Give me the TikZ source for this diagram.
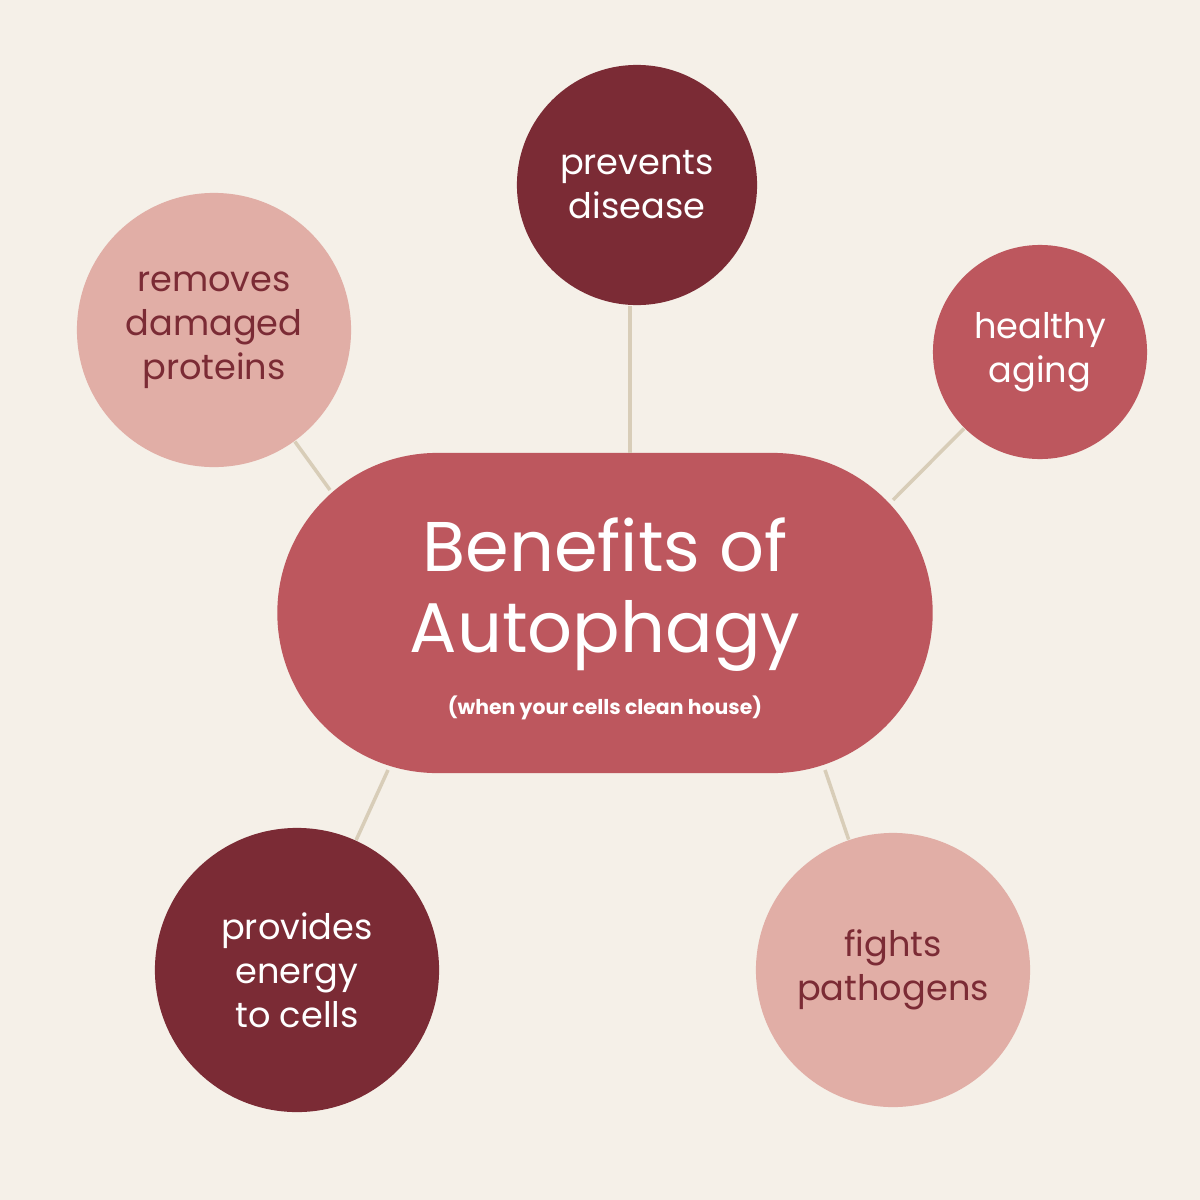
\documentclass[tikz,border=0pt]{standalone}
\usepackage{fontspec}
\setmainfont{Poppins}
\usetikzlibrary{shapes.misc}
\definecolor{bg}{HTML}{F5F0E8}
\definecolor{dk}{HTML}{7B2B35}
\definecolor{md}{HTML}{BD575E}
\definecolor{lt}{HTML}{E1AEA6}
\definecolor{ln}{HTML}{D8CDB8}
\tikzset{
 bub/.style={circle,inner sep=0pt,align=center,font=\fontsize{10pt}{12.5pt}\selectfont},
 dkb/.style={bub,fill=dk,text=white},
 mdb/.style={bub,fill=md,text=white},
 ltb/.style={bub,fill=lt,text=dk},
 conn/.style={draw=ln,line width=1pt}
}
\begin{document}
\begin{tikzpicture}[x=0.01cm,y=-0.01cm]
\fill[bg] (0,0) rectangle (1200,1200);
\useasboundingbox (0,0) rectangle (1200,1200);
\node[rounded rectangle,fill=md,minimum width=655\pgflinewidth*0+6.55cm,minimum height=3.2cm,inner sep=0pt] (c) at (605,613) {};
\node[text=white,align=center,font=\fontsize{20pt}{23pt}\selectfont] (t) at (605,595) {Benefits of\\Autophagy};
\node[text=white,font=\bfseries\fontsize{5.8pt}{7pt}\selectfont] (s) at (605,708) {(when your cells clean house)};
\node[dkb,minimum size=2.4cm] (a) at (637,185) {prevents\\disease};
\node[mdb,minimum size=2.14cm] (b) at (1040,352) {healthy\\aging};
\node[ltb,minimum size=2.74cm] (d) at (214,330) {removes\\damaged\\proteins};
\node[dkb,minimum size=2.84cm] (e) at (297,970) {provides\\energy\\to cells};
\node[ltb,minimum size=2.74cm] (f) at (893,970) {fights\\pathogens};
\coordinate (ca) at (630,453); \coordinate (cb) at (893,500); \coordinate (cd) at (330,490);
\coordinate (ce) at (388,770); \coordinate (cf) at (825,770);
\draw[conn] (a.south -| ca) -- (ca);
\draw[conn] (b) -- (cb);
\draw[conn] (d) -- (cd);
\draw[conn] (e) -- (ce);
\draw[conn] (f) -- (cf);
\end{tikzpicture}
\end{document}
